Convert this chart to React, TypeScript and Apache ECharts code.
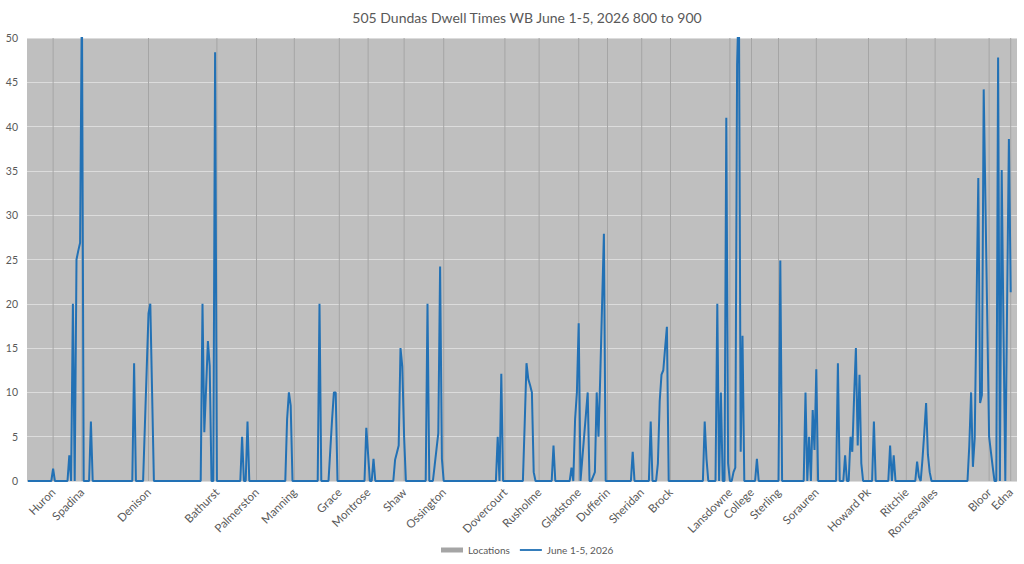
import React, { useEffect, useRef } from "react";
import * as echarts from "echarts";

const TITLE = "505 Dundas Dwell Times WB June 1-5, 2026 800 to 900";
const POINT_COUNT = 550;
const LAST_POINT = 546;

const locationNames = [
  "Huron", "Spadina", "Denison", "Bathurst", "Palmerston", "Manning", "Grace",
  "Montrose", "Shaw", "Ossington", "Dovercourt", "Rusholme", "Gladstone",
  "Dufferin", "Sheridan", "Brock", "Lansdowne", "College", "Sterling",
  "Sorauren", "Howard Pk", "Ritchie", "Roncesvalles", "Bloor", "Edna",
];
const locationIndex = [
  14, 30, 67, 105, 127, 148, 173, 189, 209, 231, 265, 284, 306,
  322, 341, 357, 390, 402, 417, 438, 467, 488, 504, 534, 546,
];
const locationValue = 50;

// nonzero dwell readings: [point index, seconds]
const dwellIndex = [
  14,
  23, 25, 27, 28, 29, 30, 35,
  59, 65, 66, 67, 68, 69,
  97, 98, 99, 100, 101, 104,
  119, 122,
  144, 145, 146,
  162, 168, 169, 170, 171,
  188, 189, 192,
  204, 205, 206, 207, 208, 209,
  222, 226, 227, 228, 229, 230,
  261, 263,
  276, 277, 278, 279, 280, 281, 292,
  302, 304, 305, 306, 308, 309, 310, 311, 314, 315, 316, 317, 318, 319, 320,
  336,
  346, 350, 351, 352, 353, 354, 355,
  376, 377,
  383, 385, 388, 389, 392, 393, 394, 395, 396, 397, 405,
  418,
  432, 434, 436, 437, 438,
  450, 454, 457, 458, 459, 460, 461, 462, 463, 470,
  479, 481,
  494, 495, 497, 498, 499, 500, 501,
  523, 524, 525, 526, 527, 528, 529, 530, 531, 532, 533, 534, 535, 536,
  539, 541, 542, 544, 545, 546,
];
const dwellValue = [
  1.4,
  2.9, 20, 25, 26, 26.9, 55, 6.7,
  13.3, 6.3, 12.6, 18.9, 20, 10,
  20, 5.5, 10.5, 15.8, 13, 48.4,
  5, 6.7,
  7, 10, 8.5,
  20, 3.5, 7, 10, 10,
  6, 3, 2.5,
  2.4, 3.2, 4, 15, 12.9, 5,
  20, 1.8, 3.6, 5.4, 24.2, 2.5,
  5, 12.1,
  6.5, 13.3, 11.5, 10.8, 10, 1, 4,
  1.5, 7, 10, 17.8, 2.5, 5, 7.5, 10, 0.5, 1, 10, 5, 12, 20, 27.9,
  3.3,
  6.7, 2, 9, 12, 12.5, 15, 17.4,
  6.7, 2.5,
  20, 10, 41, 2, 1, 1.5, 47, 55, 3.3, 16.4, 2.5,
  24.9,
  10, 5, 8, 3.5, 12.6,
  13.3, 2.9, 5, 3.3, 9.5, 15, 4, 12, 2, 6.7,
  4, 2.9,
  2.2, 0.5, 2.5, 5.5, 8.8, 3, 1,
  4, 10, 1.6, 4.8, 19.5, 34.2, 8.8, 9.7, 44.2, 31, 18, 5, 3.3, 1.6,
  47.8, 35.1, 17, 20, 38.6, 21.3,
];

const yTicks = { min: 0, max: 50, interval: 5 };

export default function App() {
  const ref = useRef<HTMLDivElement>(null);

  useEffect(() => {
    document.body.style.margin = "0";
    if (!ref.current) return;
    const chart = echarts.init(ref.current, undefined, { renderer: "svg" });

    const categories: string[] = [];
    const locations: (number | null)[] = [];
    const dwell: (number | null)[] = [];
    for (let i = 0; i < POINT_COUNT; i++) {
      categories.push("");
      locations.push(null);
      dwell.push(i <= LAST_POINT ? 0 : null);
    }
    locationIndex.forEach((idx, k) => {
      categories[idx] = locationNames[k];
      locations[idx] = locationValue;
    });
    dwellIndex.forEach((idx, k) => {
      dwell[idx] = dwellValue[k];
    });

    const font = "Lato, 'Open Sans', sans-serif";

    chart.setOption({
      animation: false,
      backgroundColor: "#ffffff",
      textStyle: { fontFamily: font },
      title: {
        text: TITLE,
        left: 522,
        textAlign: "center",
        top: 5,
        textStyle: { fontSize: 14, fontWeight: "normal", color: "#595959", fontFamily: font },
      },
      legend: {
        bottom: 4,
        left: 436,
        itemWidth: 22,
        itemHeight: 5,
        itemGap: 10,
        textStyle: { fontSize: 10, color: "#595959", fontFamily: font },
        data: [
          { name: "Locations", icon: "rect" },
          { name: "June 1-5, 2026", icon: "path://M0,0H24V2H0Z" },
        ],
      },
      grid: {
        left: 27,
        right: 7,
        top: 38,
        bottom: 83,
        show: true,
        backgroundColor: "#bfbfbf",
        borderWidth: 0,
      },
      xAxis: {
        type: "category",
        data: categories,
        boundaryGap: true,
        axisLine: { show: false },
        axisTick: { show: false },
        splitLine: { show: false },
        axisLabel: {
          interval: 0,
          rotate: 45,
          fontSize: 11.5,
          color: "#595959",
          margin: 9,
          fontFamily: font,
        },
      },
      yAxis: {
        type: "value",
        min: yTicks.min,
        max: yTicks.max,
        interval: yTicks.interval,
        axisLine: { show: false },
        axisTick: { show: false },
        axisLabel: { fontSize: 10.5, color: "#595959", margin: 9, fontFamily: font },
        splitLine: { lineStyle: { color: "#dcdcdc", width: 1 } },
      },
      series: [
        {
          name: "Locations",
          type: "bar",
          data: locations,
          barWidth: 1,
          itemStyle: { color: "#a5a5a5" },
        },
        {
          name: "June 1-5, 2026",
          type: "line",
          data: dwell,
          symbol: "none",
          clip: true,
          lineStyle: { color: "#2271b5", width: 2 },
          itemStyle: { color: "#2271b5" },
        },
      ],
    });

    return () => chart.dispose();
  }, []);

  return <div ref={ref} style={{ width: 1024, height: 564 }} />;
}
